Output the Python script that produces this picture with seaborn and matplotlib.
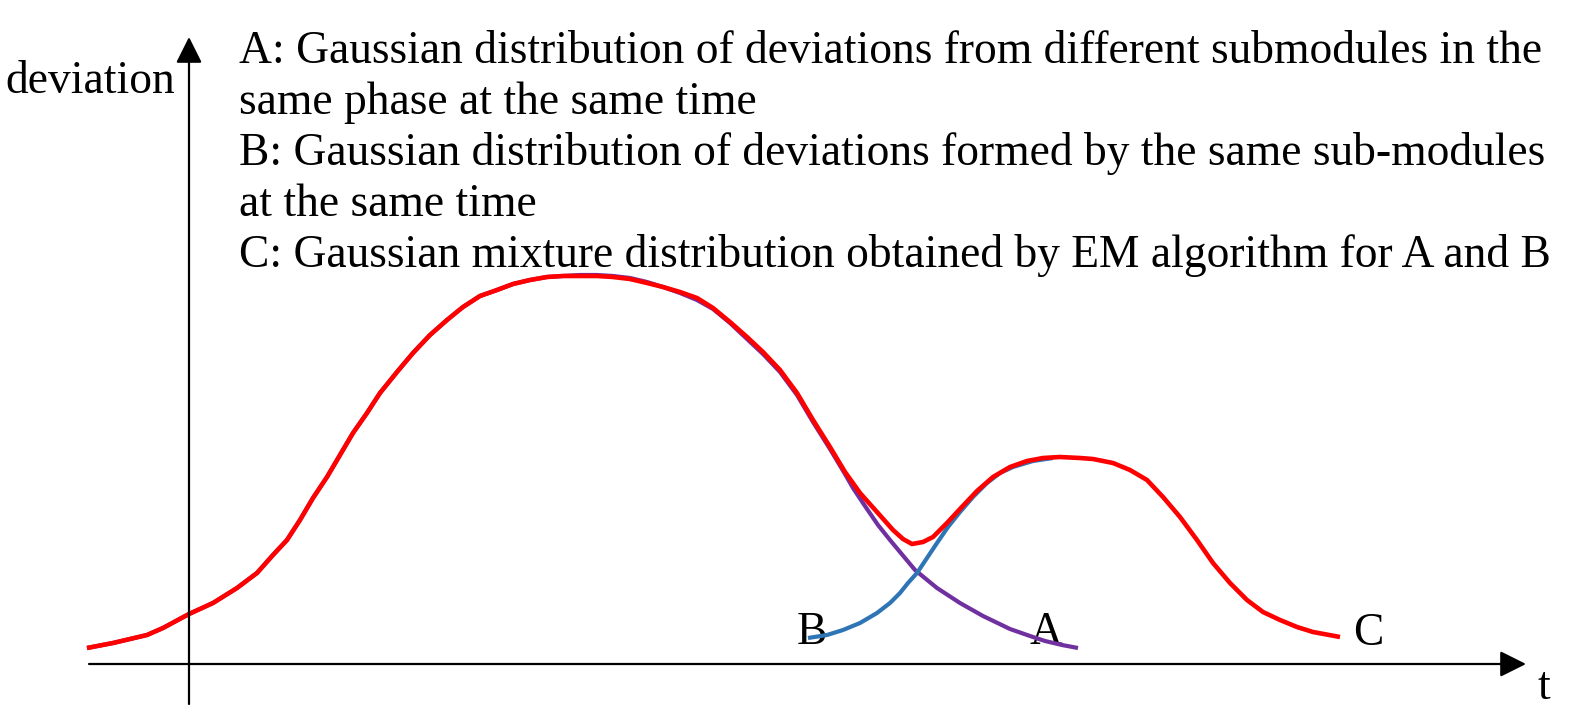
import matplotlib
matplotlib.use("Agg")
import matplotlib.pyplot as plt
import seaborn as sns
import pandas as pd

# ---- data (x position along t, deviation height above the t axis) ----
c_x = [87, 113, 147, 163, 189, 213, 237, 257, 273, 287, 300, 313, 327, 340, 353, 367,
       380, 397, 413, 430, 447, 463, 480, 497, 513, 530, 547, 563, 580, 597, 613, 630,
       647, 663, 680, 697, 713, 730, 747, 763, 780, 797, 813, 830, 845, 860, 877, 893,
       903, 912, 923, 933, 947, 960, 977, 993, 1010, 1027, 1043, 1060, 1080, 1093, 1113,
       1130, 1147, 1163, 1180, 1197, 1213, 1230, 1247, 1263, 1280, 1297, 1313, 1340]
c_y = [16, 21, 29, 36, 50, 61, 76, 91, 109, 124, 144, 166, 187, 209, 231, 251,
       271, 292, 311, 329, 344, 357, 368, 374, 380, 384, 387, 388, 388, 388, 387, 385,
       381, 377, 372, 366, 356, 342, 327, 312, 294, 271, 244, 217, 192, 171, 152, 134,
       125, 120, 122, 127, 141, 155, 173, 187, 197, 203, 206, 207, 206, 205, 201,
       194, 184, 167, 147, 124, 101, 81, 64, 52, 44, 37, 32, 27]

a_x = [87, 113, 147, 163, 189, 213, 237, 257, 273, 287, 300, 313, 327, 340, 353, 367,
       380, 397, 413, 430, 447, 463, 480, 497, 513, 530, 547, 563, 580, 597, 613, 630,
       647, 663, 680, 697, 713, 730, 747, 763, 780, 797, 813, 830, 845, 853, 867, 878,
       890, 900, 915, 937, 960, 983, 1010, 1030, 1045, 1062, 1078]
a_y = [16, 21, 29, 36, 50, 61, 76, 91, 109, 124, 144, 166, 187, 209, 231, 251,
       271, 292, 311, 329, 344, 357, 368, 374, 380, 384, 387, 388, 389, 389, 388, 386,
       382, 377, 371, 364, 355, 341, 325, 310, 292, 269, 242, 215, 190, 176, 155, 139,
       124, 112, 94, 76, 61, 48, 35, 28, 23, 19, 16]

b_x = [808, 827, 843, 860, 877, 890, 900, 908, 917, 927, 937, 948, 960, 973, 987,
       1000, 1013, 1033, 1053]
b_y = [26, 29, 34, 41, 51, 61, 71, 81, 91, 106, 121, 137, 152, 167, 181,
       191, 197, 203, 206]

curve_labels = ["B", "A", "C"]
legend_lines = [
    "A: Gaussian distribution of deviations from different submodules in the",
    "same phase at the same time",
    "B: Gaussian distribution of deviations formed by the same sub-modules",
    "at the same time",
    "C: Gaussian mixture distribution obtained by EM algorithm for A and B",
]
y_label = "deviation"
x_label = "t"

sns.set_theme(style="white")
plt.rcParams["font.family"] = ["Liberation Serif", "DejaVu Serif"]
plt.rcParams["text.color"] = "black"

W, H = 1584, 710
AXIS_Y = 664
fig = plt.figure(figsize=(W / 100, H / 100), dpi=100)
ax = fig.add_axes([0, 0, 1, 1])

fs = 32.8
tc = "black"

# axes with arrows
ax.annotate("", xy=(1526, 0), xytext=(89, 0),
            arrowprops=dict(arrowstyle="-|>", mutation_scale=40, lw=1.6,
                            color="black", shrinkA=0, shrinkB=0))
ax.annotate("", xy=(189, AXIS_Y - 37), xytext=(189, AXIS_Y - 704),
            arrowprops=dict(arrowstyle="-|>", mutation_scale=40, lw=1.6,
                            color="black", shrinkA=0, shrinkB=0))

dfa = pd.DataFrame({"x": a_x, "y": a_y})
dfb = pd.DataFrame({"x": b_x, "y": b_y})
dfc = pd.DataFrame({"x": c_x, "y": c_y})
kw = dict(estimator=None, sort=False, solid_capstyle="butt", solid_joinstyle="round")
sns.lineplot(data=dfa, x="x", y="y", ax=ax, color="#7030A0", lw=3.0, **kw)
sns.lineplot(data=dfb, x="x", y="y", ax=ax, color="#2E75B6", lw=3.0, **kw)
sns.lineplot(data=dfc, x="x", y="y", ax=ax, color="#FF0000", lw=3.3, **kw)
ax.set_xlim(0, W)
ax.set_ylim(AXIS_Y - H, AXIS_Y)
ax.axis("off")

# curve labels
ax.text(797, 20, curve_labels[0], fontsize=fs, va="baseline", ha="left", color=tc, zorder=1)
ax.text(1029, 20, curve_labels[1], fontsize=fs, va="baseline", ha="left", color=tc, zorder=1)
ax.text(1353, 19, curve_labels[2], fontsize=fs, va="baseline", ha="left", color=tc)

# axis labels
ax.text(5, AXIS_Y - 93, y_label, fontsize=fs, va="baseline", ha="left", color=tc)
ax.text(1537, AXIS_Y - 699, x_label, fontsize=fs, va="baseline", ha="left", color=tc)

# description text
baselines = [63, 114, 165, 216, 267]
for line, b in zip(legend_lines, baselines):
    ax.text(239, AXIS_Y - b, line, fontsize=fs, va="baseline", ha="left", color=tc)

fig.savefig("out.png", dpi=100)
